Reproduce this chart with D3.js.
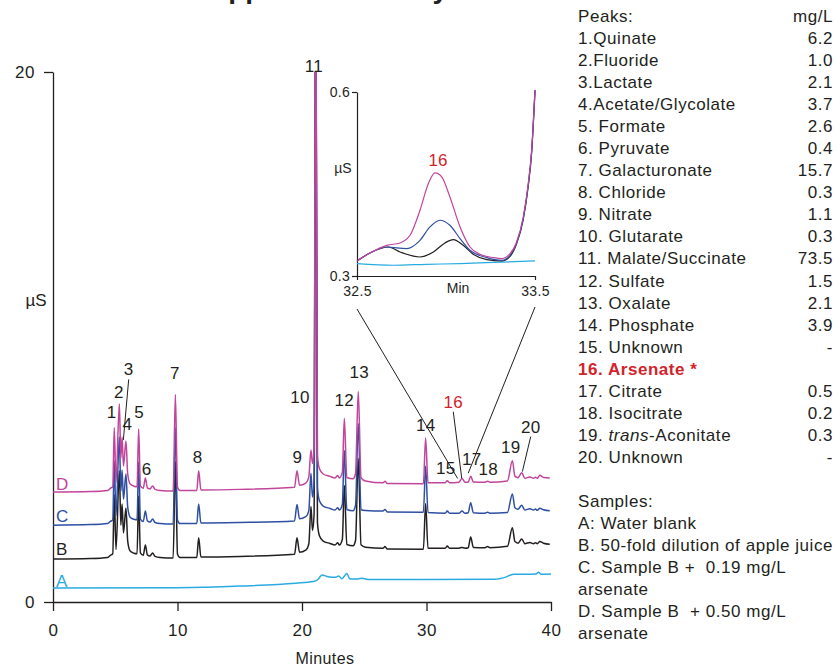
<!DOCTYPE html>
<html>
<head>
<meta charset="utf-8">
<script src="https://cdn.jsdelivr.net/npm/d3@7/dist/d3.min.js"></script>
<style>
  body { margin: 0; background: #fff; }
  svg { display: block; font-family: "Liberation Sans", Arial, Helvetica, sans-serif; }
  text { white-space: pre; }
</style>
</head>
<body>
<svg id="chart" width="836" height="668"></svg>
<script>
// chromatogram traces, [minutes, µS]
var traceA = [[0,0.53],[10,0.54],[15,0.6],[19.5,0.71],[20.9,0.77],[21.3,0.86],[21.6,1.02],[22.1,0.95],
  [22.7,0.93],[22.95,0.98],[23.2,0.88],[23.6,1.08],[23.85,0.87],[24.5,0.87],[24.8,0.9],[25.3,0.85],
  [30,0.85],[35.5,0.86],[36.3,0.93],[37,1.05],[38,1.05],[38.8,1.06],[39,1.12],[39.2,1.05],[40,1.06]];

var traceB = [[0,1.62],[3,1.64],[4.4,1.68],[4.6,1.76],[4.8,1.82],[4.92,4.05],[5.06,1.98],[5.33,4.95],
  [5.45,2.9],[5.55,3.7],[5.66,2.6],[5.86,3.55],[6.0,2.3],[6.2,1.92],[6.5,1.84],[6.75,1.82],[6.88,4.0],
  [7.02,1.85],[7.25,1.76],[7.42,2.15],[7.58,1.78],[7.8,1.74],[8.0,1.85],[8.2,1.72],[8.6,1.68],[9.65,1.66],
  [9.83,5.3],[10.0,1.8],[10.2,1.68],[11.55,1.68],[11.7,2.42],[11.88,1.7],[15,1.72],[19.4,1.8],[19.6,2.42],
  [19.8,1.88],[20.3,1.96],[20.55,2.2],[20.72,3.6],[20.84,2.7],[20.97,3.3],[21.1,25],[21.24,3.0],[21.4,2.5],
  [21.7,2.3],[22.25,2.21],[22.65,2.15],[22.87,2.24],[23.0,2.15],[23.24,2.36],[23.4,4.4],[23.6,2.17],
  [24.1,2.12],[24.3,2.32],[24.52,5.42],[24.74,2.16],[25.1,2.07],[26.5,2.03],[26.67,2.09],[26.85,2.0],
  [29.75,1.99],[29.93,3.72],[30.12,2.03],[31.5,2.03],[31.67,2.11],[31.85,2.03],[32.6,2.03],[32.85,2.06],
  [33.1,2.03],[33.35,2.05],[33.55,2.45],[33.76,2.06],[34.7,2.05],[34.9,2.09],[35.1,2.05],[36.5,2.1],
  [36.9,2.8],[37.1,2.28],[37.35,2.22],[37.65,2.38],[37.9,2.2],[38.3,2.25],[38.6,2.2],[38.75,2.24],
  [38.9,2.2],[39.1,2.28],[39.4,2.22],[39.9,2.18]];

var traceC = [[0,2.90],[3,2.92],[4.4,2.96],[4.6,3.04],[4.8,3.10],[4.92,5.33],[5.06,3.26],[5.33,6.23],
  [5.45,4.18],[5.55,4.98],[5.66,3.88],[5.86,4.83],[6.0,3.58],[6.2,3.20],[6.5,3.12],[6.75,3.10],[6.88,5.28],
  [7.02,3.13],[7.25,3.04],[7.42,3.43],[7.58,3.06],[7.8,3.02],[8.0,3.13],[8.2,3.00],[8.6,2.96],[9.65,2.94],
  [9.83,6.58],[10.0,3.08],[10.2,2.96],[11.55,2.96],[11.7,3.70],[11.88,2.98],[15,3.00],[19.4,3.06],[19.6,3.68],
  [19.8,3.14],[20.3,3.22],[20.55,3.46],[20.72,4.86],[20.84,3.96],[20.97,4.56],[21.1,25],[21.24,4.32],[21.4,3.82],
  [21.7,3.62],[22.25,3.53],[22.65,3.47],[22.87,3.56],[23.0,3.47],[23.24,3.68],[23.4,5.72],[23.6,3.49],
  [24.1,3.44],[24.3,3.64],[24.52,6.74],[24.74,3.48],[25.1,3.45],[26.5,3.43],[26.67,3.49],[26.85,3.40],
  [29.75,3.39],[29.93,5.12],[30.12,3.38],[31.5,3.35],[31.67,3.43],[31.85,3.35],[32.6,3.35],[32.85,3.43],
  [33.1,3.35],[33.35,3.37],[33.55,3.75],[33.76,3.37],[34.7,3.35],[34.9,3.39],[35.1,3.35],[36.5,3.38],
  [36.9,4.08],[37.1,3.56],[37.35,3.50],[37.65,3.65],[37.9,3.47],[38.3,3.52],[38.6,3.47],[38.75,3.51],
  [38.9,3.46],[39.1,3.54],[39.4,3.48],[39.9,3.44]];

var traceD = [[0,4.15],[3,4.17],[4.4,4.21],[4.6,4.29],[4.8,4.35],[4.92,6.58],[5.06,4.51],[5.33,7.48],
  [5.45,5.43],[5.55,6.23],[5.66,5.13],[5.86,6.08],[6.0,4.83],[6.2,4.45],[6.5,4.37],[6.75,4.35],[6.88,6.53],
  [7.02,4.38],[7.25,4.29],[7.42,4.68],[7.58,4.31],[7.8,4.27],[8.0,4.38],[8.2,4.25],[8.6,4.21],[9.65,4.19],
  [9.83,7.83],[10.0,4.33],[10.2,4.21],[11.55,4.21],[11.7,4.95],[11.88,4.23],[15,4.25],[19.4,4.33],[19.6,4.95],
  [19.8,4.41],[20.3,4.49],[20.55,4.73],[20.72,5.74],[20.84,5.23],[20.97,5.83],[21.1,25],[21.24,5.53],[21.4,5.03],
  [21.7,4.83],[22.25,4.74],[22.65,4.68],[22.87,4.77],[23.0,4.68],[23.24,4.89],[23.4,6.93],[23.6,4.70],
  [24.1,4.65],[24.3,4.85],[24.52,7.95],[24.74,4.69],[25.1,4.57],[26.5,4.50],[26.67,4.56],[26.85,4.47],
  [29.75,4.46],[29.93,6.19],[30.12,4.50],[31.5,4.50],[31.67,4.58],[31.85,4.50],[32.6,4.52],[32.85,4.66],
  [33.1,4.52],[33.35,4.52],[33.55,4.75],[33.76,4.53],[34.7,4.52],[34.9,4.56],[35.1,4.52],[36.5,4.57],
  [36.9,5.33],[37.1,4.75],[37.35,4.69],[37.65,4.88],[37.9,4.67],[38.3,4.72],[38.6,4.67],[38.75,4.71],
  [38.9,4.67],[39.1,4.78],[39.4,4.7],[39.9,4.68]];

// inset: 32.5 - 33.5 min, raw signal
var insetA = [[32.5,0.3202],[32.704,0.3175],[32.891,0.3191],[33.079,0.3202],[33.266,0.3223],[33.5,0.3245]];
var insetB = [[32.5,0.3245],[32.573,0.3375],[32.676,0.3473],[32.742,0.3392],[32.854,0.331],[32.929,0.3392],
  [32.994,0.3539],[33.041,0.3594],[33.097,0.350],[33.153,0.3354],[33.229,0.3267],[33.313,0.3245],
  [33.36,0.3321],[33.397,0.3528],[33.434,0.3925],[33.462,0.4465],[33.481,0.5007],[33.5,0.603]];
var insetC = [[32.5,0.3245],[32.573,0.3375],[32.667,0.3473],[32.779,0.3447],[32.854,0.3582],[32.91,0.380],
  [32.966,0.3909],[33.022,0.3827],[33.079,0.361],[33.135,0.3419],[33.229,0.330],[33.313,0.3256],
  [33.36,0.3338],[33.397,0.3539],[33.434,0.3935],[33.462,0.448],[33.481,0.5023],[33.5,0.603]];
var insetD = [[32.5,0.3245],[32.573,0.3375],[32.667,0.350],[32.742,0.3539],[32.798,0.3664],[32.854,0.4072],
  [32.901,0.4507],[32.938,0.468],[32.976,0.4615],[33.022,0.4289],[33.079,0.380],[33.135,0.3473],
  [33.191,0.3354],[33.266,0.330],[33.313,0.3284],[33.36,0.3365],[33.397,0.3555],[33.434,0.3962],
  [33.462,0.4507],[33.481,0.5051],[33.5,0.603]];

var sampleNames = ["A", "B", "C", "D"];
var sampleLabelAt = [0.57, 1.77, 3.02, 4.23];   // µS, just above each trace start

// peak numbers, [label, minutes, µS]
var peakLabels = [["1",4.71,7.18],["2",5.30,7.91],["3",6.08,8.78],["4",5.97,6.72],["5",6.91,7.16],
  ["6",7.53,5.01],["7",9.78,8.63],["8",11.62,5.46],["9",19.62,5.46],["10",19.84,7.75],["11",20.96,20.23],
  ["12",23.40,7.62],["13",24.60,8.69],["14",29.94,6.68],["15",31.54,5.05],["16",32.15,7.56],
  ["17",33.63,5.38],["18",34.96,5.01],["19",36.76,5.86],["20",38.37,6.62]];
var leaders = [[6.08,8.40,5.65,6.11],[32.15,7.18,32.83,4.67],[38.37,6.24,37.70,4.92]];
var zoomEnds = [[32.5,4.66],[33.35,4.86]];

var peakNames = ["1.Quinate","2.Fluoride","3.Lactate","4.Acetate/Glycolate","5. Formate","6. Pyruvate",
  "7. Galacturonate","8. Chloride","9. Nitrate","10. Glutarate","11. Malate/Succinate","12. Sulfate",
  "13. Oxalate","14. Phosphate","15. Unknown","16. Arsenate *","17. Citrate","18. Isocitrate",
  "19. trans-Aconitate","20. Unknown"];
var peakConc = ["6.2","1.0","2.1","3.7","2.6","0.4","15.7","0.3","1.1","0.3","73.5","1.5","2.1","3.9",
  "-","","0.5","0.2","0.3","-"];
var sampleNotes = ["Samples:","A: Water blank","B. 50-fold dilution of apple juice","C. Sample B +  0.19 mg/L",
  "arsenate","D. Sample B  + 0.50 mg/L","arsenate"];

var colors = {A: "#29abe2", B: "#231f20", C: "#2e4fa2", D: "#c1459b"};
var ink = "#231f20", red = "#d2232a";

var svg = d3.select("#chart");

// title, cropped off the top of the figure
svg.append("text")
    .attr("x", 208).attr("y", -2)
    .attr("font-size", 28).attr("font-weight", "bold").attr("fill", ink)
    .text("Apple Juice Analysis");

var x = d3.scaleLinear().domain([0, 40]).range([53, 551]);
var y = d3.scaleLinear().domain([0, 20]).range([602, 72]);

var xAxis = svg.append("g")
    .attr("transform", "translate(0," + y(0) + ")")
    .call(d3.axisBottom(x).tickValues([0, 10, 20, 30, 40]).tickSize(9).tickSizeOuter(0).tickPadding(13));
var yAxis = svg.append("g")
    .attr("transform", "translate(" + x(0) + ",0)")
    .call(d3.axisLeft(y).tickValues([0, 20]).tickSize(9).tickSizeOuter(0).tickPadding(9));
[xAxis, yAxis].forEach(function(ax) {
    ax.selectAll("path, line").attr("stroke", ink).attr("stroke-width", 1.3);
    ax.selectAll("text").attr("fill", ink).attr("font-size", 17).attr("font-family", null)
        .attr("letter-spacing", 0.5);
});

svg.append("text").attr("x", 325).attr("y", 658).attr("dy", "0.35em")
    .attr("text-anchor", "middle").attr("font-size", 16).attr("fill", ink).attr("letter-spacing", 0.4)
    .text("Minutes");
svg.append("text").attr("x", 36).attr("y", 300).attr("dy", "0.35em")
    .attr("text-anchor", "middle").attr("font-size", 17).attr("fill", ink)
    .text("\u00b5S");

svg.append("clipPath").attr("id", "plot")
    .append("rect").attr("x", x(0)).attr("y", y(20)).attr("width", x(40) - x(0) + 2).attr("height", y(0) - y(20));

var line = d3.line()
    .x(function(d) { return x(d[0]); })
    .y(function(d) { return y(d[1]); })
    .curve(d3.curveMonotoneX);

var traces = [traceA, traceB, traceC, traceD];
traces.forEach(function(tr, i) {
    svg.append("path")
        .datum(tr)
        .attr("clip-path", "url(#plot)")
        .attr("fill", "none")
        .attr("stroke", colors[sampleNames[i]])
        .attr("stroke-width", 1.5)
        .attr("stroke-linejoin", "round")
        .attr("d", line);
    svg.append("text")
        .attr("x", x(0) + 3).attr("y", y(sampleLabelAt[i]))
        .attr("font-size", 17).attr("fill", colors[sampleNames[i]])
        .text(sampleNames[i]);
});

svg.selectAll(".peak")
    .data(peakLabels)
    .enter().append("text")
    .attr("class", "peak")
    .attr("x", function(d) { return x(d[1]); })
    .attr("y", function(d) { return y(d[2]); })
    .attr("dy", "0.35em")
    .attr("text-anchor", "middle")
    .attr("font-size", 17)
    .attr("letter-spacing", 0.3)
    .attr("fill", function(d) { return d[0] === "16" ? red : ink; })
    .text(function(d) { return d[0]; });

svg.selectAll(".leader")
    .data(leaders)
    .enter().append("line")
    .attr("x1", function(d) { return x(d[0]); }).attr("y1", function(d) { return y(d[1]); })
    .attr("x2", function(d) { return x(d[2]); }).attr("y2", function(d) { return y(d[3]); })
    .attr("stroke", ink).attr("stroke-width", 1);

// inset
var ix = d3.scaleLinear().domain([32.5, 33.5]).range([357, 535]);
var iy = d3.scaleLinear().domain([0.3, 0.6]).range([276, 92]);

svg.append("line")
    .attr("x1", ix(32.5)).attr("y1", iy(0.3) + 33).attr("x2", x(zoomEnds[0][0])).attr("y2", y(zoomEnds[0][1]))
    .attr("stroke", ink).attr("stroke-width", 1);
svg.append("line")
    .attr("x1", ix(33.5)).attr("y1", iy(0.3) + 31).attr("x2", x(zoomEnds[1][0])).attr("y2", y(zoomEnds[1][1]))
    .attr("stroke", ink).attr("stroke-width", 1);

var ixAxis = svg.append("g")
    .attr("transform", "translate(0," + iy(0.3) + ")")
    .call(d3.axisBottom(ix).tickValues([32.5, 33.5]).tickFormat(d3.format(".1f")).tickSize(4).tickSizeOuter(0).tickPadding(6));
var iyAxis = svg.append("g")
    .attr("transform", "translate(" + ix(32.5) + ",0)")
    .call(d3.axisLeft(iy).tickValues([0.3, 0.6]).tickFormat(d3.format(".1f")).tickSize(5).tickSizeOuter(0).tickPadding(2));
[ixAxis, iyAxis].forEach(function(ax) {
    ax.selectAll("path, line").attr("stroke", ink).attr("stroke-width", 1.2);
    ax.selectAll("text").attr("fill", ink).attr("font-size", 14).attr("font-family", null)
        .attr("letter-spacing", 0.3);
});
svg.append("text").attr("x", 458).attr("y", 288).attr("dy", "0.35em")
    .attr("text-anchor", "middle").attr("font-size", 14).attr("fill", ink).text("Min");
svg.append("text").attr("x", 343).attr("y", 168).attr("dy", "0.35em")
    .attr("text-anchor", "middle").attr("font-size", 14).attr("fill", ink).text("\u00b5S");
svg.append("text").attr("x", 438).attr("y", 160).attr("dy", "0.35em")
    .attr("text-anchor", "middle").attr("font-size", 17).attr("fill", red).text("16");

var iline = d3.line()
    .x(function(d) { return ix(d[0]); })
    .y(function(d) { return iy(d[1]); })
    .curve(d3.curveMonotoneX);
[insetA, insetB, insetC, insetD].forEach(function(tr, i) {
    svg.append("path")
        .datum(tr)
        .attr("fill", "none")
        .attr("stroke", colors[sampleNames[i]])
        .attr("stroke-width", 1.2)
        .attr("d", iline);
});

// peak table and sample notes
var legend = svg.append("g").attr("font-size", 17).attr("letter-spacing", 0.55).attr("fill", ink);
legend.append("text").attr("x", 578).attr("y", 16).attr("dy", "0.35em").text("Peaks:");
legend.append("text").attr("x", 833).attr("y", 16).attr("dy", "0.35em").attr("text-anchor", "end").text("mg/L");

peakNames.forEach(function(name, i) {
    var yy = 38 + i * 22.05;
    var t = legend.append("text").attr("x", 578).attr("y", yy).attr("dy", "0.35em");
    if (name.indexOf("Arsenate") >= 0) {
        t.attr("fill", red).attr("font-weight", "bold").text(name);
    } else if (name.indexOf("trans") >= 0) {
        t.append("tspan").text("19. ");
        t.append("tspan").attr("font-style", "italic").text("trans");
        t.append("tspan").text("-Aconitate");
    } else {
        t.text(name);
    }
    legend.append("text").attr("x", 833).attr("y", yy).attr("dy", "0.35em")
        .attr("text-anchor", "end").text(peakConc[i]);
});

sampleNotes.forEach(function(s, i) {
    legend.append("text").attr("x", 578).attr("y", 501 + i * 22).attr("dy", "0.35em").text(s);
});
</script>
</body>
</html>
